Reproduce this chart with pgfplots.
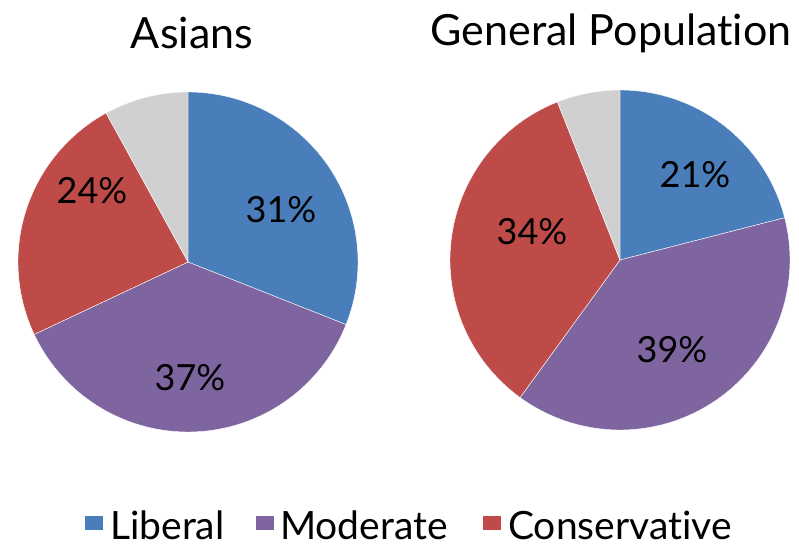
\documentclass[border=0pt]{standalone}
\usepackage{fontspec}
\setmainfont{Lato}[Ligatures={NoCommon,NoContextual}]
\usepackage{pgfplots}
\pgfplotsset{compat=1.18}
\usepgfplotslibrary{polar}
\definecolor{libc}{HTML}{4A7EBB}
\definecolor{modc}{HTML}{7F659F}
\definecolor{conc}{HTML}{BE4B48}
\definecolor{othc}{HTML}{D0D0D0}
\pgfplotsset{
  pieaxis/.style={scale only axis, width=340pt, height=340pt, hide axis,
    xmin=0, xmax=360, ymin=0, ymax=1, clip=false, anchor=center},
  slice/.style={draw=white, line width=0.4pt, samples=90},
}
\begin{document}
\begin{tikzpicture}
\path[use as bounding box] (0pt,0pt) rectangle (799pt,548pt);
% Asians: Liberal 31, Moderate 37, Conservative 24, Other 8
\begin{polaraxis}[pieaxis, at={(188pt,286pt)}]
\addplot[slice, fill=libc, domain=-21.6:90] {1} -- (axis cs:0,0) -- cycle;
\addplot[slice, fill=modc, domain=-154.8:-21.6] {1} -- (axis cs:0,0) -- cycle;
\addplot[slice, fill=conc, domain=-241.2:-154.8] {1} -- (axis cs:0,0) -- cycle;
\addplot[slice, fill=othc, domain=-270:-241.2] {1} -- (axis cs:0,0) -- cycle;
\end{polaraxis}
% General Population: Liberal 21, Moderate 39, Conservative 34, Other 6
\begin{polaraxis}[pieaxis, at={(620pt,288pt)}]
\addplot[slice, fill=libc, domain=14.4:90] {1} -- (axis cs:0,0) -- cycle;
\addplot[slice, fill=modc, domain=-126:14.4] {1} -- (axis cs:0,0) -- cycle;
\addplot[slice, fill=conc, domain=-248.4:-126] {1} -- (axis cs:0,0) -- cycle;
\addplot[slice, fill=othc, domain=-270:-248.4] {1} -- (axis cs:0,0) -- cycle;
\end{polaraxis}
% data labels
\begin{scope}[every node/.style={font=\fontsize{36}{40}\selectfont, inner sep=0pt}]
\node at (281pt,338pt) {31\%};
\node at (190pt,170pt) {37\%};
\node at (92pt,357pt) {24\%};
\node at (695pt,373pt) {21\%};
\node at (672pt,198pt) {39\%};
\node at (532pt,316pt) {34\%};
\end{scope}
% titles
\node[font=\fontsize{43}{46}\selectfont, inner sep=0pt] at (192pt,515pt) {Asians};
\node[font=\fontsize{43}{46}\selectfont, inner sep=0pt] at (611pt,515pt) {General Population};
% legend
\begin{scope}[every node/.style={font=\fontsize{39}{42}\selectfont, inner sep=0pt, anchor=base west}]
\fill[libc] (85pt,18pt) rectangle (103pt,32pt);
\node at (110pt,9pt) {Liberal};
\fill[modc] (256pt,18pt) rectangle (274pt,32pt);
\node at (280pt,9pt) {Moderate};
\fill[conc] (483pt,18pt) rectangle (501pt,32pt);
\node at (508pt,9pt) {Conservative};
\end{scope}
\end{tikzpicture}
\end{document}
